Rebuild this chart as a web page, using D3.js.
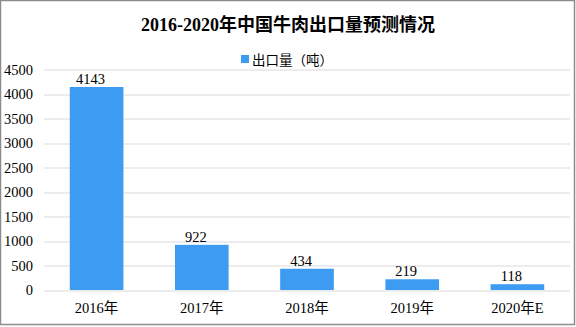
<!DOCTYPE html>
<html>
<head>
<meta charset="utf-8">
<script src="https://cdn.jsdelivr.net/npm/d3@7"></script>
<style>
  body { margin: 0; background: #fff; }
  svg { display: block; }
</style>
</head>
<body>
<div id="chart"></div>
<script>
let years = ["2016年", "2017年", "2018年", "2019年", "2020年E"];
let exportVolume = [4143, 922, 434, 219, 118];
let yTicks = [0, 500, 1000, 1500, 2000, 2500, 3000, 3500, 4000, 4500];

let svgWidth = 576, svgHeight = 327;
let margin = {top: 69.5, right: 6, bottom: 37, left: 44};
let plotW = svgWidth - margin.left - margin.right,
    plotH = svgHeight - margin.top - margin.bottom;
let font = "'Liberation Serif', 'Noto Sans CJK SC', serif";

let svg = d3.select("#chart").append("svg")
    .attr("width", svgWidth)
    .attr("height", svgHeight);

// outer frame
svg.append("rect")
    .attr("x", 0.5).attr("y", 0.5)
    .attr("width", svgWidth - 2).attr("height", svgHeight - 3)
    .attr("fill", "#fff")
    .attr("stroke", "#8c8c8c")
    .attr("stroke-width", 1.5);

svg.append("text")
    .text("2016-2020年中国牛肉出口量预测情况")
    .attr("x", 288).attr("y", 31)
    .attr("text-anchor", "middle")
    .attr("font-family", font)
    .attr("font-size", "18px")
    .attr("font-weight", "bold")
    .attr("fill", "#000");

// legend
svg.append("rect")
    .attr("x", 241).attr("y", 55)
    .attr("width", 8).attr("height", 8)
    .attr("fill", "#3d9cf2");
svg.append("text")
    .text("出口量（吨）")
    .attr("x", 252).attr("y", 64.5)
    .attr("font-family", font)
    .attr("font-size", "13.5px")
    .attr("fill", "#000");

let g = svg.append("g")
    .attr("transform", "translate(" + margin.left + "," + margin.top + ")");

let x = d3.scaleBand().domain(years).range([0, plotW]).paddingInner(0.49).paddingOuter(0.245);
let y = d3.scaleLinear().domain([0, 4500]).range([plotH, 0]);

// gridlines
g.selectAll(".grid")
    .data(yTicks)
    .enter()
    .append("line")
    .attr("class", "grid")
    .attr("x1", 0).attr("x2", plotW)
    .attr("y1", function(d) { return Math.round(y(d)) + 0.5; })
    .attr("y2", function(d) { return Math.round(y(d)) + 0.5; })
    .attr("stroke", "#d9d9d9")
    .attr("stroke-width", 1);

// y axis labels
let yAxis = d3.axisLeft(y).tickValues(yTicks).tickFormat(d3.format("d")).tickSize(0).tickPadding(11);
let yG = g.append("g").call(yAxis);
yG.select(".domain").remove();
yG.selectAll("text")
    .attr("font-family", font)
    .attr("font-size", "14.5px")
    .attr("fill", "#000");

// x axis labels
let xAxis = d3.axisBottom(x).tickSize(0).tickPadding(13);
let xG = g.append("g").attr("transform", "translate(0," + plotH + ")").call(xAxis);
xG.select(".domain").remove();
xG.selectAll("text")
    .attr("font-family", font)
    .attr("font-size", "14.5px")
    .attr("fill", "#000");

// bars
g.selectAll(".bar")
    .data(exportVolume)
    .enter()
    .append("rect")
    .attr("class", "bar")
    .attr("x", function(d, i) { return x(years[i]); })
    .attr("y", function(d) { return y(d); })
    .attr("width", x.bandwidth())
    .attr("height", function(d) { return plotH - y(d); })
    .attr("fill", "#3d9cf2");

// value labels
g.selectAll(".lbl")
    .data(exportVolume)
    .enter()
    .append("text")
    .attr("class", "lbl")
    .text(function(d) { return d; })
    .attr("x", function(d, i) { return x(years[i]) + x.bandwidth() / 2 - 6; })
    .attr("y", function(d) { return y(d) - 3; })
    .attr("text-anchor", "middle")
    .attr("font-family", font)
    .attr("font-size", "14.5px")
    .attr("fill", "#000");
</script>
</body>
</html>
